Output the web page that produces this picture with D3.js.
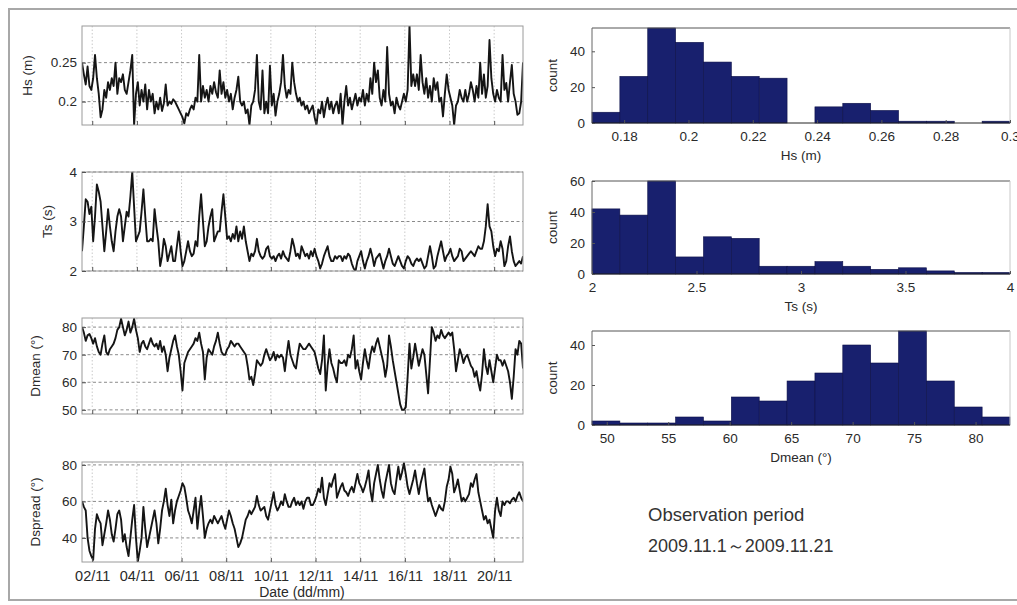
<!DOCTYPE html>
<html>
<head>
<meta charset="utf-8">
<script src="https://cdn.jsdelivr.net/npm/d3@7"></script>
<style>
body { margin: 0; background: #fff; }
svg { font-family: "Liberation Sans", Arial, sans-serif; }
</style>
</head>
<body>
<svg id="chart" width="1017" height="605"></svg>
<script>
// 2-hourly series, 2009-11-01 13:00 onwards
let hs = [
0.25,0.235,0.222,0.245,0.22,0.215,0.23,0.26,0.23,0.21,
0.18,0.19,0.215,0.205,0.225,0.215,0.23,0.22,0.25,0.21,
0.23,0.225,0.235,0.215,0.21,0.225,0.24,0.26,0.17,0.21,
0.225,0.195,0.215,0.2,0.222,0.19,0.215,0.2,0.21,0.185,
0.2,0.19,0.205,0.188,0.198,0.222,0.195,0.2,0.197,0.203,
0.2,0.195,0.19,0.185,0.18,0.172,0.185,0.182,0.19,0.195,
0.19,0.205,0.2,0.26,0.2,0.22,0.205,0.215,0.2,0.22,
0.21,0.225,0.212,0.205,0.24,0.21,0.225,0.205,0.215,0.2,
0.21,0.19,0.205,0.215,0.232,0.2,0.195,0.2,0.185,0.19,
0.17,0.195,0.2,0.215,0.26,0.2,0.19,0.24,0.185,0.2,
0.185,0.246,0.195,0.21,0.182,0.2,0.21,0.225,0.26,0.22,
0.205,0.215,0.21,0.25,0.225,0.21,0.2,0.205,0.195,0.2,
0.19,0.195,0.185,0.19,0.195,0.18,0.17,0.19,0.185,0.2,
0.18,0.195,0.205,0.19,0.2,0.185,0.195,0.2,0.185,0.21,
0.17,0.2,0.22,0.195,0.205,0.19,0.2,0.21,0.195,0.205,
0.2,0.215,0.195,0.21,0.2,0.23,0.21,0.25,0.225,0.24,
0.205,0.195,0.215,0.2,0.27,0.21,0.195,0.2,0.185,0.205,
0.195,0.19,0.2,0.21,0.2,0.215,0.298,0.22,0.235,0.22,
0.235,0.215,0.26,0.225,0.21,0.23,0.205,0.22,0.2,0.23,
0.215,0.225,0.2,0.205,0.181,0.21,0.235,0.215,0.205,0.195,
0.17,0.195,0.2,0.215,0.205,0.2,0.215,0.2,0.21,0.225,
0.215,0.2,0.22,0.205,0.25,0.21,0.235,0.205,0.22,0.279,
0.23,0.21,0.2,0.215,0.205,0.2,0.26,0.215,0.224,0.2,
0.225,0.247,0.21,0.2,0.183,0.185,0.2,0.25
];
let ts = [
2.4,2.9,3.45,3.4,3.15,3.3,2.6,3.1,3.75,3.6,
3.4,2.9,2.4,2.8,3.25,2.9,2.6,2.4,2.8,3.1,
3.25,3.1,2.6,2.9,3.2,3.1,3.5,4.0,3.3,2.6,
2.7,2.8,3.2,3.65,3.1,2.6,2.6,2.65,2.6,3.25,
2.9,2.6,2.1,2.3,2.65,2.5,2.2,2.35,2.5,2.2,
2.2,2.5,2.8,2.4,2.1,2.2,2.4,2.6,2.4,2.3,
2.35,2.6,2.5,3.1,3.55,3.0,2.5,2.6,2.9,3.1,
3.25,2.6,2.7,2.8,2.8,3.2,3.55,3.1,2.65,2.7,
2.6,2.75,2.65,2.9,2.6,2.8,2.65,2.9,2.6,2.4,
2.2,2.35,2.3,2.4,2.65,2.4,2.3,2.25,2.3,2.45,
2.5,2.3,2.25,2.3,2.2,2.3,2.35,2.25,2.4,2.3,
2.25,2.2,2.4,2.65,2.5,2.3,2.35,2.25,2.5,2.4,
2.3,2.35,2.25,2.4,2.3,2.45,2.3,2.2,2.05,2.15,
2.3,2.4,2.5,2.3,2.2,2.2,2.3,2.25,2.3,2.3,
2.2,2.3,2.25,2.35,2.3,2.15,2.05,2.0,2.2,2.3,
2.4,2.2,2.05,2.2,2.3,2.45,2.3,2.1,2.25,2.3,
2.35,2.2,2.05,2.2,2.3,2.45,2.3,2.15,2.1,2.2,
2.3,2.2,2.1,2.05,2.2,2.3,2.25,2.15,2.1,2.2,
2.25,2.2,2.25,2.15,2.05,2.1,2.3,2.5,2.3,2.05,
2.1,2.3,2.45,2.6,2.4,2.2,2.3,2.35,2.45,2.3,
2.2,2.25,2.3,2.45,2.4,2.2,2.25,2.3,2.35,2.4,
2.35,2.3,2.4,2.5,2.45,2.45,2.6,2.9,3.35,2.9,
2.8,2.5,2.3,2.45,2.4,2.6,2.45,2.1,2.2,2.5,
2.7,2.4,2.2,2.1,2.15,2.2,2.15,2.3
];
let dmean = [
80,78,75,77,77.5,76,74,76,73,71,
70,74,77,71,70,72,73,74,76,79,
80,83,80,77,79,82,78,80,83,79,
76,71,74,75,73,72,74,76,74,73,
74,72,75,71,73,70,64,69,72,75,
77,73,70,64,57,67,69,71,72,73,
74,76,75,78,74,71,61,69,72,71,
70,73,75,78,74,71,70,70,72,73,
75,74,73,74,74,73,72,71,70,66,
61,62,59,63,68,67,66,67,70,72,
70,68,69,71,68,70,69,70,69,64,
70,75,70,68,66,65,70,74,73,72,
72,73,74,73,72,71,68,65,63,68,
77,57,66,72,67,65,62,60,68,67,
67,68,66,70,69,72,77,65,68,64,
61,67,72,68,65,70,73,71,74,76,
73,70,67,62,66,77,73,68,64,60,
56,52,50,50,51,62,74,65,69,74,
70,66,69,72,70,63,56,68,80,78,
75,77,76,79,77,76,77,78,77,78,
72,64,68,72,70,67,69,70,68,66,
65,62,64,60,57,63,72,66,63,68,
64,60,65,70,68,68,66,68,66,64,
60,54,62,72,70,75,74,65
];
let dspread = [
60,57,55,40,33,30,28,45,53,50,
48,36,42,48,55,50,42,38,45,53,
55,50,38,42,35,30,40,50,58,40,
27,33,40,57,45,35,40,45,50,55,
48,37,45,55,60,67,58,52,61,48,
55,60,63,66,70,68,62,55,52,48,
55,62,45,55,63,52,40,45,48,50,
48,52,50,48,50,52,48,45,50,55,
52,48,45,40,35,37,40,45,50,52,
55,53,55,57,63,58,55,56,57,52,
50,55,60,65,58,55,57,60,58,64,
60,57,57,60,62,58,60,58,60,56,
60,62,62,58,58,60,63,67,65,73,
62,58,64,70,68,72,75,62,65,68,
70,66,65,63,66,68,65,70,75,70,
68,65,68,72,77,66,60,70,75,80,
72,66,62,70,75,80,70,66,64,72,
79,72,76,81,75,68,64,68,72,77,
70,64,70,74,78,68,60,62,58,55,
52,55,58,56,55,60,68,72,79,75,
65,68,72,66,60,62,60,62,64,70,
68,72,75,65,60,55,50,52,48,50,
45,40,55,62,55,52,60,58,60,60,
59,61,62,60,63,65,62,60
];

// histogram counts, 15 equal bins each
let hsCounts = [6, 26, 53, 45, 34, 26, 25, 0, 9, 11, 7, 1, 1, 0, 1];
let tsCounts = [42, 38, 60, 11, 24, 23, 5, 5, 8, 5, 3, 4, 2, 1, 1];
let dmeanCounts = [2, 1, 1, 4, 2, 14, 12, 22, 26, 40, 31, 47, 22, 9, 4];

let hsTicks = [0.2, 0.25];
let tsTicks = [2, 3, 4];
let dmeanTicks = [50, 60, 70, 80];
let dspreadTicks = [40, 60, 80];
let dateDays = [2, 4, 6, 8, 10, 12, 14, 16, 18, 20];

let hsBinTicks = [0.18, 0.2, 0.22, 0.24, 0.26, 0.28, 0.3];
let tsBinTicks = [2, 2.5, 3, 3.5, 4];
let dmeanBinTicks = [50, 55, 60, 65, 70, 75, 80];
let countTicks = [0, 20, 40];
let countTicksTs = [0, 20, 40, 60];

let svg = d3.select("#chart");
let fmtDate = d3.timeFormat("%d/%m");

// outer frame
svg.append("rect")
.attr("x", 9).attr("y", 9)
.attr("width", 1015).attr("height", 591)
.attr("fill", "none")
.attr("stroke", "#a8a8a8")
.attr("stroke-width", 2);

let t0 = new Date(2009, 10, 1, 13);
let stepMs = 2 * 3600 * 1000;
let timeAt = i => new Date(t0.getTime() + i * stepMs);
let dateTicks = dateDays.map(d => new Date(2009, 10, d));

let x = d3.scaleTime()
.domain([t0, timeAt(hs.length - 1)])
.range([82, 523]);

let series = [
  {values: hs, name: "Hs (m)", domain: [0.17, 0.297], ticks: hsTicks, top: 26, bottom: 125, lx: 32},
  {values: ts, name: "Ts (s)", domain: [2, 4], ticks: tsTicks, top: 172, bottom: 271, lx: 52},
  {values: dmean, name: "Dmean (°)", domain: [48.5, 83.3], ticks: dmeanTicks, top: 318, bottom: 414, lx: 40},
  {values: dspread, name: "Dspread (°)", domain: [26.8, 81.6], ticks: dspreadTicks, top: 462, bottom: 562, lx: 40}
];

function styleAxis(a) {
  a.attr("font-size", 13.5).attr("font-family", null).attr("color", "#2a2a2a");
  a.select(".domain").remove();
  a.selectAll(".tick line").attr("stroke", "#555");
}

series.forEach((p, k) => {
  let y = d3.scaleLinear().domain(p.domain).range([p.bottom, p.top]);
  let g = svg.append("g");

  g.append("clipPath").attr("id", "clip" + k)
  .append("rect")
  .attr("x", 82).attr("y", p.top)
  .attr("width", 441).attr("height", p.bottom - p.top);

  g.selectAll("line.vg")
  .data(dateTicks)
  .enter().append("line")
  .classed("vg", true)
  .attr("x1", d => x(d)).attr("x2", d => x(d))
  .attr("y1", p.top).attr("y2", p.bottom)
  .attr("stroke", "#cacaca")
  .attr("stroke-dasharray", "1.5,2");

  g.selectAll("line.hg")
  .data(p.ticks)
  .enter().append("line")
  .classed("hg", true)
  .attr("x1", 82).attr("x2", 523)
  .attr("y1", d => y(d)).attr("y2", d => y(d))
  .attr("stroke", "#8a8a8a")
  .attr("stroke-dasharray", "3,2.5");

  let line = d3.line()
  .x((d, i) => x(timeAt(i)))
  .y(d => y(d));

  g.append("path")
  .datum(p.values)
  .attr("clip-path", "url(#clip" + k + ")")
  .attr("d", line)
  .attr("fill", "none")
  .attr("stroke", "#151515")
  .attr("stroke-width", 1.9)
  .attr("stroke-linejoin", "round");

  g.append("rect")
  .attr("x", 82).attr("y", p.top)
  .attr("width", 441).attr("height", p.bottom - p.top)
  .attr("fill", "none")
  .attr("stroke", "#9a9a9a");

  g.append("g")
  .attr("transform", "translate(82,0)")
  .call(d3.axisLeft(y).tickValues(p.ticks).tickSizeInner(-4).tickSizeOuter(0).tickPadding(5).tickFormat(d => String(d)))
  .call(styleAxis);

  g.append("g")
  .attr("transform", "translate(0," + p.bottom + ")")
  .call(d3.axisBottom(x).tickValues(dateTicks).tickSizeInner(-4).tickSizeOuter(0).tickPadding(9)
    .tickFormat(k === 3 ? fmtDate : () => ""))
  .call(styleAxis)
  .attr("font-size", 14.5);

  g.append("text")
  .attr("transform", "translate(" + p.lx + "," + (p.top + p.bottom) / 2 + ") rotate(-90)")
  .attr("text-anchor", "middle")
  .attr("font-size", 13.5)
  .attr("fill", "#2a2a2a")
  .text(p.name);
});

svg.append("text")
.attr("x", 302).attr("y", 597)
.attr("text-anchor", "middle")
.attr("font-size", 14)
.attr("fill", "#2a2a2a")
.text("Date (dd/mm)");

// histograms
let hists = [
  {counts: hsCounts, domain: [0.17, 0.30], ticks: hsBinTicks, yticks: countTicks, top: 28, bottom: 123, name: "Hs (m)"},
  {counts: tsCounts, domain: [2, 4], ticks: tsBinTicks, yticks: countTicksTs, top: 181, bottom: 274, name: "Ts (s)"},
  {counts: dmeanCounts, domain: [48.8, 82.8], ticks: dmeanBinTicks, yticks: countTicks, top: 331, bottom: 425, name: "Dmean (°)"}
];

hists.forEach(h => {
  let hx = d3.scaleLinear().domain(h.domain).range([592, 1010]);
  let hy = d3.scaleLinear().domain([0, d3.max(h.counts)]).range([h.bottom, h.top]);
  let bw = (h.domain[1] - h.domain[0]) / h.counts.length;
  let g = svg.append("g");

  g.selectAll("rect.bar")
  .data(h.counts)
  .enter().append("rect")
  .classed("bar", true)
  .attr("x", (d, i) => hx(h.domain[0] + i * bw))
  .attr("width", (d, i) => hx(h.domain[0] + (i + 1) * bw) - hx(h.domain[0] + i * bw))
  .attr("y", d => hy(d))
  .attr("height", d => hy(0) - hy(d))
  .attr("fill", "#18206e")
  .attr("stroke", "#0c1048")
  .attr("stroke-width", 0.6);

  g.append("line")
  .attr("x1", 592).attr("x2", 1010)
  .attr("y1", h.top).attr("y2", h.top)
  .attr("stroke", "#555");
  g.append("line")
  .attr("x1", 1010).attr("x2", 1010)
  .attr("y1", h.top).attr("y2", h.bottom)
  .attr("stroke", "#c8c8c8");
  g.append("line")
  .attr("x1", 592).attr("x2", 592)
  .attr("y1", h.top).attr("y2", h.bottom)
  .attr("stroke", "#666");
  g.append("line")
  .attr("x1", 592).attr("x2", 1010)
  .attr("y1", h.bottom).attr("y2", h.bottom)
  .attr("stroke", "#222");

  g.append("g")
  .attr("transform", "translate(592,0)")
  .call(d3.axisLeft(hy).tickValues(h.yticks).tickSizeInner(-3).tickSizeOuter(0).tickPadding(7))
  .call(styleAxis);

  g.append("g")
  .attr("transform", "translate(0," + h.bottom + ")")
  .call(d3.axisBottom(hx).tickValues(h.ticks).tickSizeInner(-3).tickSizeOuter(0).tickPadding(8).tickFormat(d => String(+d.toFixed(2))))
  .call(styleAxis);

  g.append("text")
  .attr("transform", "translate(557," + (h.top + h.bottom) / 2 + ") rotate(-90)")
  .attr("text-anchor", "middle")
  .attr("font-size", 13.5)
  .attr("fill", "#2a2a2a")
  .text("count");

  g.append("text")
  .attr("x", 801).attr("y", h.bottom + 37)
  .attr("text-anchor", "middle")
  .attr("font-size", 13.5)
  .attr("fill", "#2a2a2a")
  .text(h.name);
});

svg.append("text")
.attr("x", 648).attr("y", 521)
.attr("font-size", 18.5)
.attr("fill", "#333")
.text("Observation period");

svg.append("text")
.attr("x", 648).attr("y", 552)
.attr("font-size", 18)
.attr("fill", "#333")
.text("2009.11.1～2009.11.21");
</script>
</body>
</html>
